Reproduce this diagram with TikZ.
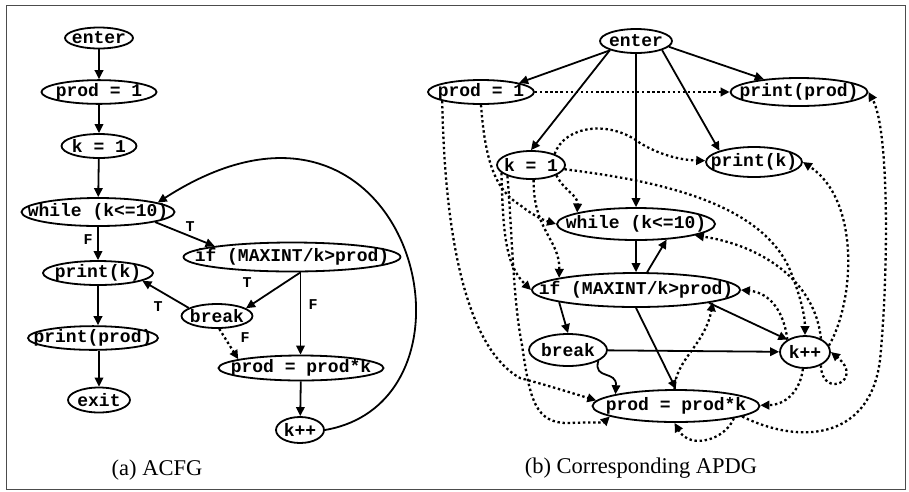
\documentclass[tikz,border=0pt]{standalone}
\usepackage{fontspec}
\setmainfont{Liberation Serif}
\setmonofont{Liberation Mono}
\usetikzlibrary{arrows.meta, shapes.geometric}
\tikzset{
  st/.style={ellipse, draw, line width=1.8pt, inner sep=0pt, minimum height=24pt,
             font=\fontsize{18}{18}\ttfamily\bfseries},
  arr/.style={-{Triangle[length=9pt,width=8.5pt]}, line width=1.8pt},
  darr/.style={arr, line width=2.3pt, dash pattern=on 2.4pt off 2.7pt},
  lbl/.style={font=\fontsize{15}{15}\ttfamily\bfseries, inner sep=1pt},
  captxt/.style={font=\fontsize{22.5}{22.5}\selectfont},
}
\newcommand{\cd}[1]{\makebox[0pt]{#1}}
\begin{document}
\begin{tikzpicture}[x=1pt, y=-1pt]
  \useasboundingbox (0,0) rectangle (909,491);
  \draw[black!70, line width=0.8pt] (6,5) rectangle (905,489);

  % (a) ACFG
  \node[st, minimum width=68pt, minimum height=21pt] (enter) at (99,38) {\cd{enter}};
  \node[st, minimum width=115pt, minimum height=21pt] (prod1) at (99,92) {\cd{prod = 1}};
  \node[st, minimum width=75pt] (k1) at (99,146) {\cd{k = 1}};
  \node[st, minimum width=153pt, minimum height=28pt] (while) at (98,212) {\cd{while (k<=10)}};
  \node[st, minimum width=217pt, minimum height=29pt] (if) at (292,257) {\cd{if (MAXINT/k>prod)}};
  \node[st, minimum width=110pt] (printk) at (98,273) {\cd{print(k)}};
  \node[st, minimum width=71pt] (break) at (217,316) {\cd{break}};
  \node[st, minimum width=130pt, minimum height=22pt] (printprod) at (93,338) {\cd{print(prod)}};
  \node[st, minimum width=165pt, minimum height=25pt] (prodk) at (301,368) {\cd{prod = prod*k}};
  \node[st, minimum width=62pt, minimum height=25pt] (exit) at (99,400) {\cd{exit}};
  \node[st, minimum width=48pt, minimum height=26pt] (kpp) at (300,430) {\cd{k++}};

  \draw[arr] (enter) -- (prod1);
  \draw[arr] (prod1) -- (k1);
  \draw[arr] (k1) -- (while);
  \draw[arr] (while) -- (printk);
  \draw[arr] (while.-10) -- (if.172.5);
  \draw[arr] (if.-61) -- (break.15);
  \draw[arr] (if.-61) -- (if.-61 |- prodk.north);
  \draw[arr] (break.164) -- (printk.-10);
  \draw[darr] (break.-80) -- (prodk.172);
  \draw[arr] (printk) -- (printk |- printprod.north);
  \draw[arr] (exit |- printprod.south) -- (exit);
  \draw[arr] (prodk) -- (kpp);
  \draw[arr] (kpp.east) .. controls (500,400) and (410,40) .. (while.9);

  \node[lbl] (f1) at (88,240) {F};
  \node[lbl] (t1) at (190,227) {T};
  \node[lbl] (t2) at (247,283) {T};
  \node[lbl] (t3) at (158,307) {T};
  \node[lbl] (f2) at (313,305) {F};
  \node[lbl] (f3) at (245,338) {F};
  \node[captxt] (capa) at (157,470) {(a) ACFG};

  % (b) Corresponding APDG
  \node[st, minimum width=72pt] (enterb) at (636,41) {\cd{enter}};
  \node[st, minimum width=106pt] (prod1b) at (481,92) {\cd{prod = 1}};
  \node[st, minimum width=137pt, minimum height=28pt] (pprodb) at (799,92) {\cd{print(prod)}};
  \node[st, minimum width=68pt, minimum height=28pt] (k1b) at (531,165) {\cd{k = 1}};
  \node[st, minimum width=96pt, minimum height=30pt] (pkb) at (754,162) {\cd{print(k)}};
  \node[st, minimum width=158pt, minimum height=32pt] (whileb) at (636,224) {\cd{while (k<=10)}};
  \node[st, minimum width=208pt, minimum height=34pt] (ifb) at (636,290) {\cd{if (MAXINT/k>prod)}};
  \node[st, minimum width=78pt, minimum height=32pt] (breakb) at (568,350) {\cd{break}};
  \node[st, minimum width=50pt, minimum height=32pt] (kppb) at (805,352) {\cd{k++}};
  \node[st, minimum width=167pt, minimum height=32pt] (prodkb) at (676,406) {\cd{prod = prod*k}};

  % control
  \draw[arr] (enterb) -- (prod1b.north east);
  \draw[arr] (enterb.south west) -- (k1b.north);
  \draw[arr] (enterb) -- (whileb);
  \draw[arr] (enterb.south east) -- (pkb.north west);
  \draw[arr] (enterb.-10) -- (pprodb.160);
  \draw[arr] (whileb) -- (ifb);
  \draw[arr] (ifb.58.7) -- (whileb.-27.6);
  \draw[arr] (ifb.-171) -- (breakb.north);
  \draw[arr] (ifb.-10) -- (kppb.145);
  \draw[arr] (ifb.south) -- (prodkb.north);
  \draw[arr] (breakb) -- (kppb);
  \draw[arr] (breakb.-20) .. controls (593,380) and (617,370) .. (prodkb.169);

  % data
  \draw[darr] (prod1b) -- (pprodb);
  \draw[darr] (prod1b.-167.5) .. controls (445,250) and (470,350) .. (520,378)
              .. controls (550,386) and (575,394) .. (prodkb.176);
  \draw[darr] (prod1b.south) .. controls (485,160) and (495,190) .. (520,205)
              .. controls (530,213) and (540,219) .. (whileb.west);
  \draw[darr] (k1b.-165) .. controls (503,230) and (505,265) .. (ifb.west);
  \draw[darr] (k1b.-155) .. controls (512,230) and (513,300) .. (522,345)
              .. controls (530,400) and (535,424) .. (570,423)
              .. controls (590,422) and (603,423) .. (prodkb.-171);
  \draw[darr] (k1b.-22) .. controls (565,192) and (578,195) .. (whileb.169);
  \draw[darr] (k1b.-80) .. controls (533,230) and (560,240) .. (ifb.171);
  \draw[darr] (k1b.25) .. controls (565,125) and (610,120) .. (640,143)
              .. controls (660,155) and (680,160) .. (pkb);
  \draw[darr] (k1b) .. controls (650,180) and (760,200) .. (790,270)
              .. controls (800,295) and (805,315) .. (kppb);
  \draw[darr] (kppb.40) .. controls (815,280) and (760,245) .. (whileb.-11);
  \draw[darr] (kppb.145) .. controls (783,305) and (765,292) .. (ifb.east);
  \draw[darr] (kppb.15) .. controls (855,300) and (860,200) .. (pkb.east);
  \draw[darr] (kppb.-40) .. controls (822,400) and (865,380) .. (kppb.0);
  \draw[darr] (kppb) .. controls (800,392) and (785,405) .. (prodkb);
  \draw[darr] (prodkb.95) .. controls (675,360) and (705,345) .. (ifb.-9);
  \draw[darr] (prodkb.-12) .. controls (725,440) and (690,450) .. (prodkb.-95);
  \draw[darr] (prodkb.-9) .. controls (800,445) and (870,440) .. (880,360)
              .. controls (888,280) and (890,130) .. (pprodb.east);

  \node[captxt] (capb) at (641,468) {(b) Corresponding APDG};
\end{tikzpicture}
\end{document}
